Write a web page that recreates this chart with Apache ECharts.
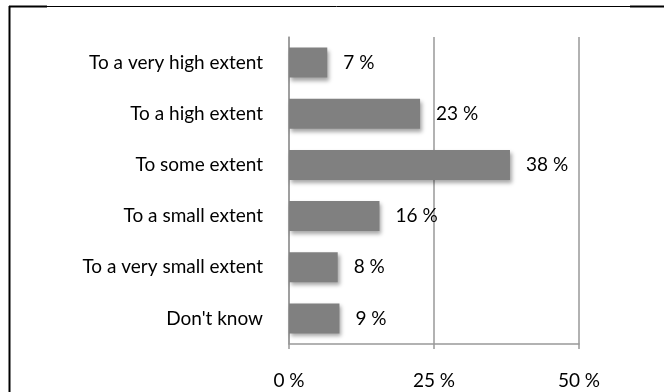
<!DOCTYPE html>
<html>
<head>
<meta charset="utf-8">
<script src="https://cdn.jsdelivr.net/npm/echarts@6/dist/echarts.min.js"></script>
<style>
html,body{margin:0;padding:0;background:#fff;}
#c{width:664px;height:392px;}
</style>
</head>
<body>
<div id="c"></div>
<script>
var categories = ["To a very high extent", "To a high extent", "To some extent", "To a small extent", "To a very small extent", "Don't know"];
var values = [6.6, 22.6, 38.1, 15.6, 8.4, 8.7];
var axisTicks = [0, 25, 50];

var chart = echarts.init(document.getElementById('c'), null, {renderer: 'canvas'});
var font = 'Lato, "Open Sans", sans-serif';
chart.setOption({
  animation: false,
  backgroundColor: '#fff',
  grid: {left: 289, right: 85, top: 37, bottom: 48, containLabel: false},
  xAxis: {
    type: 'value',
    min: axisTicks[0],
    max: axisTicks[axisTicks.length - 1],
    interval: axisTicks[1] - axisTicks[0],
    axisLine: {show: true, lineStyle: {color: '#999', width: 1.5}},
    axisTick: {show: true, length: 5, lineStyle: {color: '#999', width: 1.5}},
    splitLine: {show: true, lineStyle: {color: '#999', width: 1.5}},
    axisLabel: {formatter: '{value} %', color: '#000', fontSize: 19, fontFamily: font, margin: 27}
  },
  yAxis: {
    type: 'category',
    inverse: true,
    data: categories,
    axisLine: {show: true, lineStyle: {color: '#999', width: 1.5}},
    axisTick: {show: false},
    splitLine: {show: false},
    axisLabel: {color: '#000', fontSize: 19, fontFamily: font, margin: 26}
  },
  series: [{
    type: 'bar',
    data: values,
    barWidth: 30,
    itemStyle: {
      color: '#808080',
      shadowColor: 'rgba(0,0,0,0.35)',
      shadowBlur: 4,
      shadowOffsetX: 2,
      shadowOffsetY: 3
    },
    label: {
      show: true,
      position: 'right',
      distance: 16,
      color: '#000',
      fontSize: 19,
      fontFamily: font,
      formatter: function (p) { return Math.round(p.value) + ' %'; }
    }
  }],
  graphic: [
    {type: 'line', shape: {x1: 9.5, y1: 6, x2: 9.5, y2: 392}, style: {stroke: '#000', lineWidth: 2}},
    {type: 'line', shape: {x1: 9, y1: 6.5, x2: 664, y2: 6.5}, style: {stroke: '#000', lineWidth: 1}},
    {type: 'line', shape: {x1: 9, y1: 6.5, x2: 47, y2: 6.5}, style: {stroke: '#000', lineWidth: 2}},
    {type: 'line', shape: {x1: 630, y1: 6.5, x2: 664, y2: 6.5}, style: {stroke: '#000', lineWidth: 2}}
  ]
});
</script>
</body>
</html>
